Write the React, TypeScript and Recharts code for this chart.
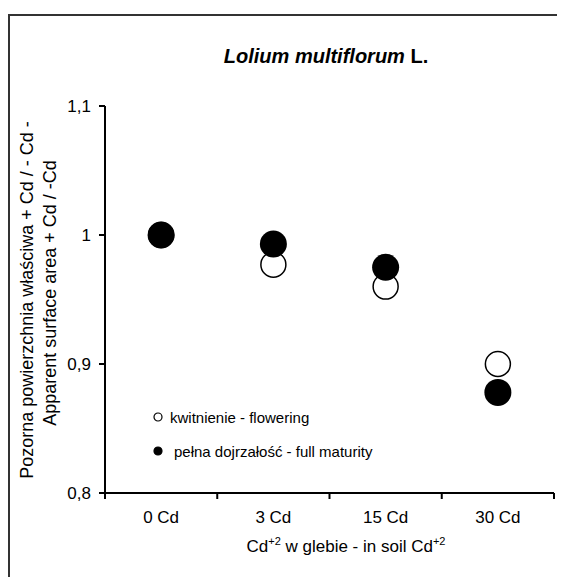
import React from "react";
import { ComposedChart, Line, XAxis, YAxis, Legend, Label } from "recharts";

const doses = ["0 Cd", "3 Cd", "15 Cd", "30 Cd"];
const flowering = [1.0, 0.977, 0.96, 0.9];
const fullMaturity = [1.0, 0.993, 0.975, 0.878];
const yTicks = [0.8, 0.9, 1, 1.1];

const rows = doses.map((dose, i) => ({
  dose,
  flowering: flowering[i],
  maturity: fullMaturity[i],
}));

const FONT = "'Liberation Sans', Arial, sans-serif";
const X_TICK_SIZE = 6;
const X_TICK_MARGIN = 12;

const legendItems = [
  { label: "kwitnienie - flowering", fill: "#fff" },
  { label: "pełna dojrzałość - full maturity", fill: "#000" },
];

const LegendBox = () => (
  <div style={{ fontFamily: FONT, fontSize: 15, color: "#000" }}>
    {legendItems.map((it, i) => (
      <div key={it.label} style={{ display: "flex", alignItems: "center", height: 34 }}>
        <svg width={12} height={12} style={{ marginRight: i === 0 ? 6 : 10 }}>
          <circle cx={6} cy={6} r={4} fill={it.fill} stroke="#000" strokeWidth={1.2} />
        </svg>
        <span>{it.label}</span>
      </div>
    ))}
  </div>
);

// category label in the middle of the band, tick marks on the band edges
const DoseTick = (props: any) => {
  const { x, y, payload, index, visibleTicksCount } = props;
  const off = payload.offset ?? 0;
  const axisY = y - X_TICK_SIZE - X_TICK_MARGIN;
  const last = index === (visibleTicksCount ?? doses.length) - 1;
  return (
    <g>
      <line x1={x - off} x2={x - off} y1={axisY} y2={axisY + X_TICK_SIZE} stroke="#000" strokeWidth={2} />
      {last && (
        <line x1={x + off} x2={x + off} y1={axisY} y2={axisY + X_TICK_SIZE} stroke="#000" strokeWidth={2} />
      )}
      <text x={x} y={y} dy="0.71em" textAnchor="middle" fontFamily={FONT} fontSize={17} fill="#000">
        {payload.value}
      </text>
    </g>
  );
};

const YTitle = () => (
  <g fontFamily={FONT} fontSize={18} fill="#000">
    <text x={25} y={292} textAnchor="middle" transform="rotate(-90, 25, 292)">
      Pozorna powierzchnia właściwa  + Cd / - Cd -
    </text>
    <text x={48} y={285} textAnchor="middle" transform="rotate(-90, 48, 285)">
      Apparent surface area + Cd / -Cd
    </text>
  </g>
);

const XTitle = () => (
  <text x={338} y={544} textAnchor="middle" fontFamily={FONT} fontSize={17} fill="#000">
    Cd
    <tspan dy={-7} fontSize={11}>+2</tspan>
    <tspan dy={7}> w glebie - in soil Cd</tspan>
    <tspan dy={-7} fontSize={11}>+2</tspan>
  </text>
);

export default function App() {
  return (
    <div style={{ position: "relative", width: 557, height: 569 }}>
      <div
        style={{
          position: "absolute",
          left: 0,
          top: 6,
          width: 557,
          height: 563,
          borderTop: "2px solid #333",
          borderLeft: "2px solid #333",
          boxSizing: "border-box",
        }}
      />
      <div
        style={{
          position: "absolute",
          left: 0,
          width: 636,
          top: 38,
          lineHeight: "20px",
          textAlign: "center",
          fontFamily: FONT,
          fontSize: 20,
          fontWeight: "bold",
        }}
      >
        <i>Lolium multiflorum</i> L.
      </div>
      <div style={{ position: "absolute", left: 0, top: 0 }}>
        <ComposedChart
          width={557}
          height={569}
          data={rows}
          margin={{ top: 98, right: 11, bottom: 46, left: 37 }}
        >
          <XAxis
            dataKey="dose"
            scale="band"
            tickLine={false}
            tickSize={X_TICK_SIZE}
            tickMargin={X_TICK_MARGIN}
            axisLine={{ stroke: "#000", strokeWidth: 2 }}
            tick={DoseTick}
            interval={0}
            height={38}
          >
            <Label content={XTitle} />
          </XAxis>
          <YAxis
            domain={[0.8, 1.1]}
            ticks={yTicks}
            width={60}
            tickSize={6}
            tickMargin={8}
            tickFormatter={(v: number) => String(v).replace(".", ",")}
            axisLine={{ stroke: "#000", strokeWidth: 2 }}
            tickLine={{ stroke: "#000", strokeWidth: 2 }}
            tick={{ fill: "#000", fontSize: 17, fontFamily: FONT }}
          >
            <Label content={YTitle} />
          </YAxis>
          <Legend
            layout="horizontal"
            verticalAlign="middle"
            align="center"
            content={LegendBox}
            wrapperStyle={{ left: 144, top: 392, width: 300 }}
          />
          <Line
            name="kwitnienie - flowering"
            dataKey="flowering"
            stroke="none"
            dot={{ r: 12.5, fill: "#fff", stroke: "#000", strokeWidth: 1.5 }}
            activeDot={false}
            isAnimationActive={false}
          />
          <Line
            name="pełna dojrzałość - full maturity"
            dataKey="maturity"
            stroke="none"
            dot={{ r: 13.5, fill: "#000", stroke: "#000", strokeWidth: 0 }}
            activeDot={false}
            isAnimationActive={false}
          />
        </ComposedChart>
      </div>
    </div>
  );
}
